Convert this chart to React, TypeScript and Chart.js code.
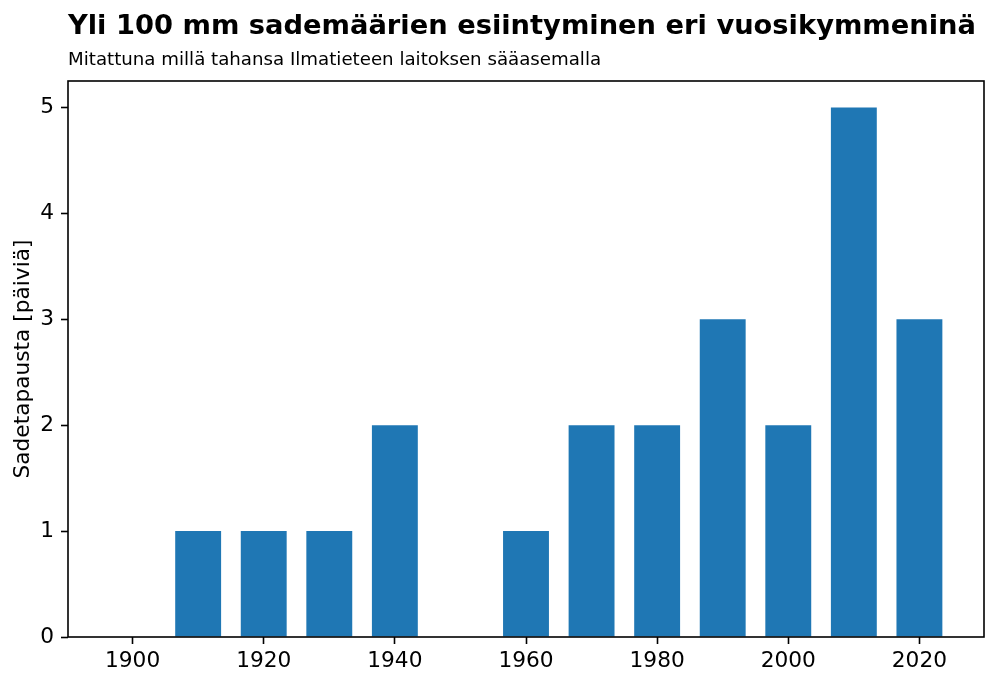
import { useEffect, useRef } from 'react'
import { Chart, registerables } from 'chart.js'

Chart.register(...registerables)

// Rain events over 100 mm per decade
const decades = [1900, 1910, 1920, 1930, 1940, 1950, 1960, 1970, 1980, 1990, 2000, 2010, 2020]
const counts = [0, 1, 1, 1, 2, 0, 1, 2, 2, 3, 2, 5, 3]
const xTicks = [1900, 1920, 1940, 1960, 1980, 2000, 2020]
const yTicks = [0, 1, 2, 3, 4, 5]

const titleText = 'Yli 100 mm sademäärien esiintyminen eri vuosikymmeninä'
const subtitleText = 'Mitattuna millä tahansa Ilmatieteen laitoksen sääasemalla'
const yLabel = 'Sadetapausta [päiviä]'

const FONT = '"DejaVu Sans", sans-serif'

// frame around the plot + titles aligned with the axes
const framePlugin = {
  id: 'frame',
  afterDraw(chart) {
    const { ctx, chartArea } = chart
    ctx.save()
    ctx.strokeStyle = '#000'
    ctx.lineWidth = 1.6
    ctx.strokeRect(chartArea.left, chartArea.top, chartArea.right - chartArea.left, chartArea.bottom - chartArea.top)
    ctx.fillStyle = '#000'
    ctx.textAlign = 'left'
    ctx.textBaseline = 'alphabetic'
    ctx.font = `bold 27.3px ${FONT}`
    ctx.fillText(titleText, chartArea.left, 34)
    ctx.font = `18.2px ${FONT}`
    ctx.fillText(subtitleText, chartArea.left, 65)
    ctx.restore()
  }
}

export default function App() {
  const chartRef = useRef(null)
  const chartInstance = useRef(null)

  useEffect(() => {
    document.body.style.margin = '0'
    if (!chartRef.current) return
    if (chartInstance.current) chartInstance.current.destroy()

    const ctx = chartRef.current.getContext('2d')
    chartInstance.current = new Chart(ctx, {
      type: 'bar',
      data: {
        datasets: [{
          data: decades.map((d, i) => ({ x: d, y: counts[i] })),
          backgroundColor: '#1f77b4',
          borderWidth: 0,
          barPercentage: 0.7,
          categoryPercentage: 1.0
        }]
      },
      options: {
        responsive: false,
        animation: false,
        layout: { padding: { top: 81, right: 16, left: 0, bottom: 0 } },
        plugins: {
          legend: { display: false },
          tooltip: { enabled: false }
        },
        scales: {
          x: {
            type: 'linear',
            min: 1890.15,
            max: 2029.85,
            offset: false,
            afterBuildTicks: (scale) => { scale.ticks = xTicks.map(v => ({ value: v })) },
            afterFit: (scale) => { scale.height = 47 },
            border: { display: false },
            grid: {
              offset: false,
              drawOnChartArea: false,
              drawTicks: true,
              tickLength: 7,
              tickWidth: 1.6,
              tickColor: '#000'
            },
            ticks: {
              color: '#000',
              font: { family: FONT, size: 21.7 },
              padding: 4,
              maxRotation: 0,
              callback: (v) => String(v)
            }
          },
          y: {
            min: 0,
            max: 5.25,
            afterBuildTicks: (scale) => { scale.ticks = yTicks.map(v => ({ value: v })) },
            afterFit: (scale) => { scale.width = 68 },
            border: { display: false },
            grid: {
              drawOnChartArea: false,
              drawTicks: true,
              tickLength: 7,
              tickWidth: 1.6,
              tickColor: '#000'
            },
            ticks: {
              color: '#000',
              font: { family: FONT, size: 21.7 },
              padding: 7,
              callback: (v) => String(v)
            },
            title: {
              display: true,
              text: yLabel,
              color: '#000',
              font: { family: FONT, size: 21.7 },
              padding: { top: 10, bottom: 0 }
            }
          }
        }
      },
      plugins: [framePlugin]
    })

    return () => {
      if (chartInstance.current) {
        chartInstance.current.destroy()
        chartInstance.current = null
      }
    }
  }, [])

  return (
    <div style={{ width: 1000, height: 684 }}>
      <canvas ref={chartRef} width={1000} height={684} />
    </div>
  )
}
